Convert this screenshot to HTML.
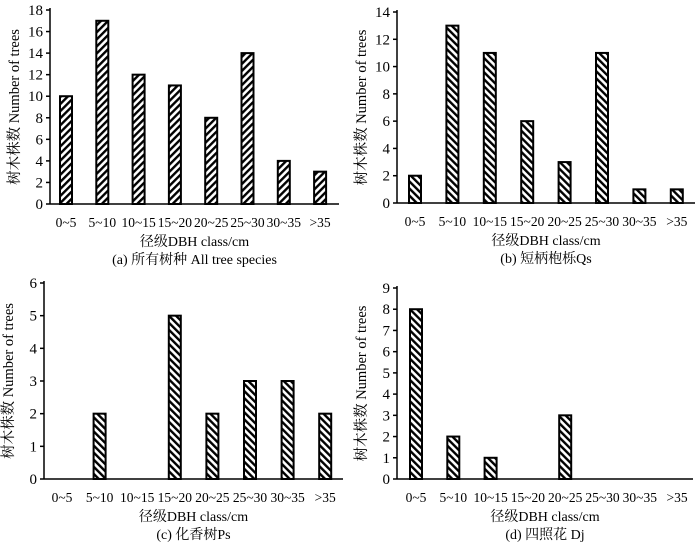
<!DOCTYPE html>
<html><head><meta charset="utf-8"><style>
body{margin:0;background:#fff;width:700px;height:547px;overflow:hidden}
svg text{font-family:"Liberation Serif","Noto Serif CJK SC",serif;fill:#000}
</style></head><body>
<svg id="c" width="700" height="547" xmlns="http://www.w3.org/2000/svg">
<defs>
<pattern id="hf" patternUnits="userSpaceOnUse" width="5" height="5" patternTransform="rotate(45)"><rect width="5" height="5" fill="#fff"/><rect width="2.4" height="5" fill="#000"/></pattern>
<pattern id="hb" patternUnits="userSpaceOnUse" width="5" height="5" patternTransform="rotate(-45)"><rect width="5" height="5" fill="#fff"/><rect width="2.4" height="5" fill="#000"/></pattern>
</defs>
</svg>
<script>
const categories=["0~5","5~10","10~15","15~20","20~25","25~30","30~35",">35"];
const valuesA=[10,17,12,11,8,14,4,3];
const valuesB=[2,13,11,6,3,11,1,1];
const valuesC=[0,2,0,5,2,3,3,2];
const valuesD=[8,2,1,0,3,0,0,0];
const ticksA=[0,2,4,6,8,10,12,14,16,18];
const ticksB=[0,2,4,6,8,10,12,14];
const ticksC=[0,1,2,3,4,5,6];
const ticksD=[0,1,2,3,4,5,6,7,8,9];
const titleA="(a) 所有树种 All tree species";
const titleB="(b) 短柄枹栎Qs";
const titleC="(c) 化香树Ps";
const titleD="(d) 四照花 Dj";
const NS="http://www.w3.org/2000/svg";
const svg=document.getElementById('c');
function mk(t,a,p){const e=document.createElementNS(NS,t);for(const k in a)e.setAttribute(k,a[k]);(p||svg).appendChild(e);return e;}
function panel(name,vals,ticks,title,ax,axEnd,y0,yTop,first,step,hatch){
  const g=mk('g',{});
  
  
  const max=ticks[ticks.length-1];
  const y=v=>y0-(v/max)*(y0-yTop);
  const x=i=>first+i*step;
  ticks.forEach(t=>{
    mk('line',{x1:ax-4,x2:ax,y1:y(t),y2:y(t),stroke:'#000','stroke-width':1.5},g);
    const tx=mk('text',{x:ax-7,y:y(t)+5,'text-anchor':'end','font-size':15},g);
    tx.textContent=t;
    
    
  });
  vals.forEach((v,i)=>{
    if(v>0){
      const r=mk('rect',{x:x(i)-6,y:y(v),width:12,height:y0-y(v),fill:'url(#'+hatch+')',stroke:'#000','stroke-width':2},g);
      
      
    }
    const l=mk('text',{x:x(i),y:y0+23,'text-anchor':'middle','font-size':13.5},g);
    l.textContent=categories[i];
    
    
  });
  mk('line',{x1:ax,x2:ax,y1:yTop-2,y2:y0,stroke:'#000','stroke-width':1.5},g);
  mk('line',{x1:ax,x2:axEnd,y1:y0,y2:y0,stroke:'#000','stroke-width':1.5},g);
  const mid=(ax+axEnd)/2;
  const xt=mk('text',{x:mid,y:y0+42,'text-anchor':'middle','font-size':14},g);
  xt.textContent='径级DBH class/cm';
  
  
  const tt=mk('text',{x:mid,y:y0+60,'text-anchor':'middle','font-size':14},g);
  tt.textContent=title;
  
  
  const yc=(y0+yTop)/2;
  const yt=mk('text',{x:ax-31,y:yc,'text-anchor':'middle','font-size':14.5,transform:'rotate(-90 '+(ax-31)+' '+yc+')'},g);
  yt.textContent='树木株数 Number of trees';
  
  
}
panel('panel-a',valuesA,ticksA,titleA,50,339,204,10,66,36.3,'hf');
panel('panel-b',valuesB,ticksB,titleB,397,695,203,12,415,37.4,'hb');
panel('panel-c',valuesC,ticksC,titleC,44,343,479,283,62,37.6,'hb');
panel('panel-d',valuesD,ticksD,titleD,397,693,479,288,416,37.3,'hb');
</script>
</body></html>
